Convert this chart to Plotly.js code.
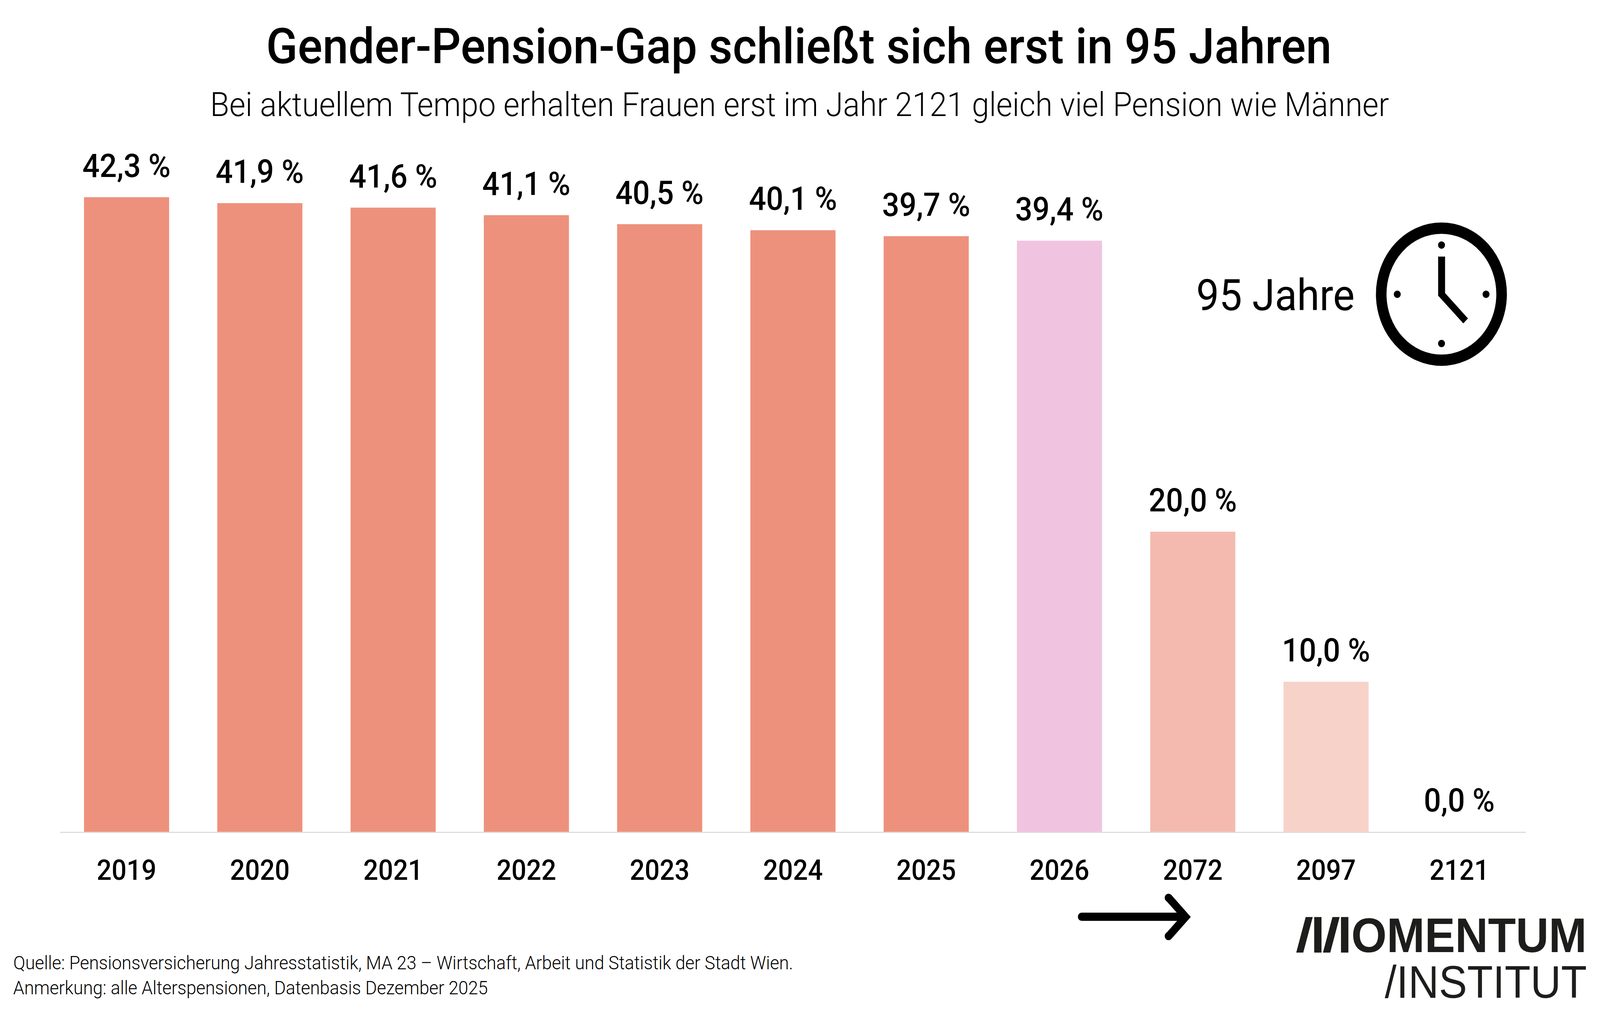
<!DOCTYPE html>
<html>
<head>
<meta charset="utf-8">
<script src="https://cdn.plot.ly/plotly-3.0.1.min.js"></script>
<style>
html, body { margin: 0; padding: 0; background: #fff; overflow: hidden; }
#chart { transform-origin: 0 0; }
</style>
</head>
<body>
<div id="chart" style="width:4386px;height:2598px;"></div>
<script>
'use strict';

let years = ['2019', '2020', '2021', '2022', '2023', '2024', '2025', '2026', '2072', '2097', '2121'];
let gap = [42.3, 41.9, 41.6, 41.1, 40.5, 40.1, 39.7, 39.4, 20.0, 10.0, 0.0];
let barColors = ['#ee917c', '#ee917c', '#ee917c', '#ee917c', '#ee917c', '#ee917c', '#ee917c',
    '#f0c4e0', '#f4bab0', '#f7d2c9', '#f7d2c9'];

let titleText = 'Gender-Pension-Gap schließt sich erst in 95 Jahren';
let subtitleText = 'Bei aktuellem Tempo erhalten Frauen erst im Jahr 2121 gleich viel Pension wie Männer';
let sourceText = 'Quelle: Pensionsversicherung Jahresstatistik, MA 23 – Wirtschaft, Arbeit und Statistik der Stadt Wien.';
let noteText = 'Anmerkung: alle Alterspensionen, Datenbasis Dezember 2025';

// Plot area in page pixels
const W = 4386, H = 2598;
const LEFT = 165, RIGHT = 4182.7, TOP = 209, BASE = 2129;

function px(x) {
    return (x - LEFT) / (RIGHT - LEFT);
}

function py(y) {
    return (BASE - y) / (BASE - TOP);
}

function polygon(points, color) {
    let d = '';
    for (let i = 0; i < points.length; i++) {
        d += (i === 0 ? 'M' : 'L') + px(points[i][0]) + ',' + py(points[i][1]);
    }
    return {
        type: 'path', xref: 'paper', yref: 'paper', path: d + 'Z',
        fillcolor: color, line: {width: 0}
    };
}

function ellipse(cx, cy, rx, ry, fill, lineWidth) {
    return {
        type: 'circle', xref: 'paper', yref: 'paper',
        x0: px(cx - rx), x1: px(cx + rx), y0: py(cy + ry), y1: py(cy - ry),
        fillcolor: fill,
        line: {color: '#000', width: lineWidth}
    };
}

function pageText(text, x, y, size, weight, xanchor, color, family) {
    return {
        xref: 'paper', yref: 'paper', x: px(x), y: py(y),
        text: text, showarrow: false, xanchor: xanchor, yanchor: 'middle',
        font: {family: family || 'Roboto', size: size, weight: weight, color: color || '#000'}
    };
}

function makeAnnotations() {
    let notes = [];
    for (let i = 0; i < years.length; i++) {
        notes.push({
            x: i, y: gap[i], xref: 'x', yref: 'y',
            text: gap[i].toFixed(1).replace('.', ',') + ' %',
            showarrow: false, xanchor: 'center', yanchor: 'bottom', yshift: 30,
            font: {family: 'Roboto', size: 83, weight: 500, color: '#000'}
        });
    }
    notes.push(pageText(subtitleText, 2192, 268, 85.5, 300, 'center'));
    notes.push(pageText('95 Jahre', 3277, 755, 112, 400, 'left'));
    notes.push(pageText(sourceText, 34, 2464, 48.5, 300, 'left'));
    notes.push(pageText(noteText, 34, 2528, 48.5, 300, 'left'));
    notes.push(pageText('OMENTUM', 4352, 2393, 125, 700, 'right', '#1d1d1b', 'Liberation Sans'));
    notes.push(pageText('/INSTITUT', 4352, 2514, 116, 400, 'right', '#1d1d1b', 'Liberation Sans'));
    return notes;
}

function makeShapes() {
    let logo = '#1d1d1b';
    return [
        // Clock
        ellipse(3951, 753, 165, 169, 'rgba(0,0,0,0)', 29),
        ellipse(3951.3, 627.3, 9.5, 9.5, '#000', 0),
        ellipse(3951.3, 879.3, 9.5, 9.5, '#000', 0),
        ellipse(3830, 753.3, 9.5, 9.5, '#000', 0),
        ellipse(4073.3, 753.3, 9.5, 9.5, '#000', 0),
        polygon([[3942, 656.7], [3961, 656.7], [3961, 750], [4023.7, 815], [4011, 827.7], [3942, 756.7]], '#000'),
        // Arrow
        polygon([[2965, 2336], [3240, 2336], [3240, 2357], [2965, 2357]], '#000'),
        polygon([[3196, 2305], [3211, 2291], [3264, 2347], [3211, 2403], [3196, 2389], [3236, 2347]], '#000'),
        ellipse(2965, 2346.5, 10.5, 10.5, '#000', 0),
        ellipse(3203, 2298, 10.5, 10.5, '#000', 0),
        ellipse(3203, 2396, 10.5, 10.5, '#000', 0),
        // Logo mark
        polygon([[3553, 2438.3], [3572.3, 2438.3], [3598.3, 2347.3], [3579, 2347.3]], logo),
        polygon([[3602.3, 2438.3], [3622.3, 2438.3], [3622.3, 2347.3], [3602.3, 2347.3]], logo),
        polygon([[3626.3, 2438.3], [3646.3, 2438.3], [3672, 2347.3], [3652.3, 2347.3]], logo),
        polygon([[3675.7, 2438.3], [3696, 2438.3], [3696, 2347.3], [3675.7, 2347.3]], logo)
    ];
}

let trace = {
    type: 'bar',
    x: years,
    y: gap,
    width: 0.6387,
    marker: {color: barColors, line: {width: 0}},
    hoverinfo: 'skip'
};

let layout = {
    width: W,
    height: H,
    margin: {l: LEFT, r: W - RIGHT, t: TOP, b: H - BASE, pad: 0},
    paper_bgcolor: '#fff',
    plot_bgcolor: '#fff',
    showlegend: false,
    title: {
        text: titleText,
        x: 2190 / W,
        xanchor: 'center',
        y: 1 - 118 / H,
        yanchor: 'middle',
        font: {family: 'Roboto', size: 127, weight: 500, color: '#000'}
    },
    xaxis: {
        type: 'category',
        range: [-0.498, 10.5],
        showgrid: false,
        zeroline: false,
        showline: true,
        linecolor: '#dcdcdc',
        linewidth: 3,
        ticks: '',
        ticklabelstandoff: 34,
        tickfont: {family: 'Roboto', size: 72, weight: 500, color: '#000'}
    },
    yaxis: {
        range: [0, 50],
        visible: false,
        fixedrange: true
    },
    annotations: makeAnnotations(),
    shapes: makeShapes()
};

// The browser window can come out narrower than the chart, so fit it
document.getElementById('chart').style.transform =
    'scale(' + (window.innerWidth / W) + ',' + (window.innerHeight / H) + ')';

Plotly.newPlot('chart', [trace], layout, {displayModeBar: false, staticPlot: true});
</script>
</body>
</html>
